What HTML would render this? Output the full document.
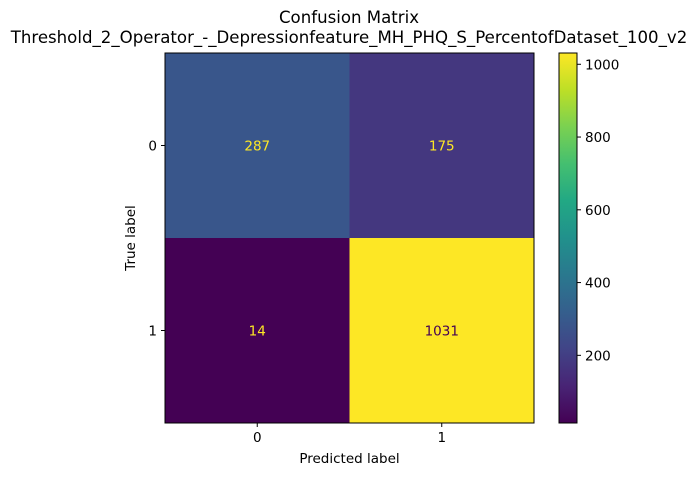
<!DOCTYPE html>
<html><head><meta charset="utf-8"><style>
body{margin:0;background:#fff;}
svg text{font-family:"DejaVu Sans","Liberation Sans",sans-serif;}
</style></head><body>
<svg id="chart" width="698" height="476" xmlns="http://www.w3.org/2000/svg">
<defs>
<linearGradient id="vir" x1="0" y1="1" x2="0" y2="0">
<stop offset="0" stop-color="#440154"/><stop offset="0.1" stop-color="#482475"/>
<stop offset="0.2" stop-color="#414487"/><stop offset="0.3" stop-color="#355f8d"/>
<stop offset="0.4" stop-color="#2a788e"/><stop offset="0.5" stop-color="#21918c"/>
<stop offset="0.6" stop-color="#22a884"/><stop offset="0.7" stop-color="#44bf70"/>
<stop offset="0.8" stop-color="#7ad151"/><stop offset="0.9" stop-color="#bddf26"/>
<stop offset="1" stop-color="#fde725"/>
</linearGradient>
</defs>
<text x="349" y="23" font-size="16.6" text-anchor="middle">Confusion Matrix</text>
<text x="349" y="43" font-size="16.6" text-anchor="middle">Threshold_2_Operator_-_Depressionfeature_MH_PHQ_S_PercentofDataset_100_v2</text>
<g id="cells"></g>
<rect x="165" y="53" width="369" height="370" fill="none" stroke="#000" stroke-width="1"/>
<rect x="559" y="53" width="18" height="370" fill="url(#vir)" stroke="#000" stroke-width="1"/>
<g id="axes"></g>
<text x="349.5" y="463" font-size="13.5" text-anchor="middle">Predicted label</text>
<text transform="translate(135,238) rotate(-90)" font-size="13.5" text-anchor="middle">True label</text>
</svg>
<script>
const labels=["0","1"];
const values=[[287,175],[14,1031]];
const cbTicks=[200,400,600,800,1000];
const vmin=14, vmax=1031;
const L=165,T=53,W=369,H=370,cb={x:559,w:18};
const stops=["#440154","#482475","#414487","#355f8d","#2a788e","#21918c","#22a884","#44bf70","#7ad151","#bddf26","#fde725"];
function hex(h){return [1,3,5].map(i=>parseInt(h.substr(i,2),16));}
function vir(t){t=Math.max(0,Math.min(1,t))*10;const i=Math.min(9,Math.floor(t)),f=t-i;const a=hex(stops[i]),b=hex(stops[i+1]);return "rgb("+a.map((v,k)=>Math.round(v+(b[k]-v)*f)).join(",")+")";}
const ns="http://www.w3.org/2000/svg";
function mk(tag,attrs,p){const e=document.createElementNS(ns,tag);for(const k in attrs)e.setAttribute(k,attrs[k]);p.appendChild(e);return e;}
const cells=document.getElementById('cells'),axes=document.getElementById('axes');
const cw=W/labels.length,ch=H/labels.length;
const cy=v=>T+H-(v-vmin)/(vmax-vmin)*H;
values.forEach((row,r)=>row.forEach((v,c)=>{
 const t=(v-vmin)/(vmax-vmin);
 const rc=mk('rect',{x:L+c*cw,y:T+r*ch,width:cw+0.5,height:ch+0.5,fill:vir(t)},cells);
 
 
 const tx=mk('text',{x:L+(c+0.5)*cw,y:T+(r+0.5)*ch+5,'font-size':13.5,'text-anchor':'middle',fill:t<0.5?'#fde725':'#440154'},cells);
 tx.textContent=v;
 
 
}));
labels.forEach((lb,i)=>{
 const x=L+(i+0.5)*cw;
 mk('line',{x1:x,x2:x,y1:T+H,y2:T+H+4,stroke:'#000'},axes);
 const t=mk('text',{x:x,y:T+H+19,'font-size':13.5,'text-anchor':'middle'},axes);t.textContent=lb;
 
 
 const y=T+(i+0.5)*ch;
 mk('line',{x1:L-4,x2:L,y1:y,y2:y,stroke:'#000'},axes);
 const u=mk('text',{x:L-8,y:y+5,'font-size':13.5,'text-anchor':'end'},axes);u.textContent=lb;
 
 
});
cbTicks.forEach(v=>{
 const y=cy(v);
 mk('line',{x1:cb.x+cb.w,x2:cb.x+cb.w+4,y1:y,y2:y,stroke:'#000'},axes);
 const t=mk('text',{x:cb.x+cb.w+8,y:y+5,'font-size':13.5},axes);t.textContent=v;
 
 
});
</script>
</body></html>
